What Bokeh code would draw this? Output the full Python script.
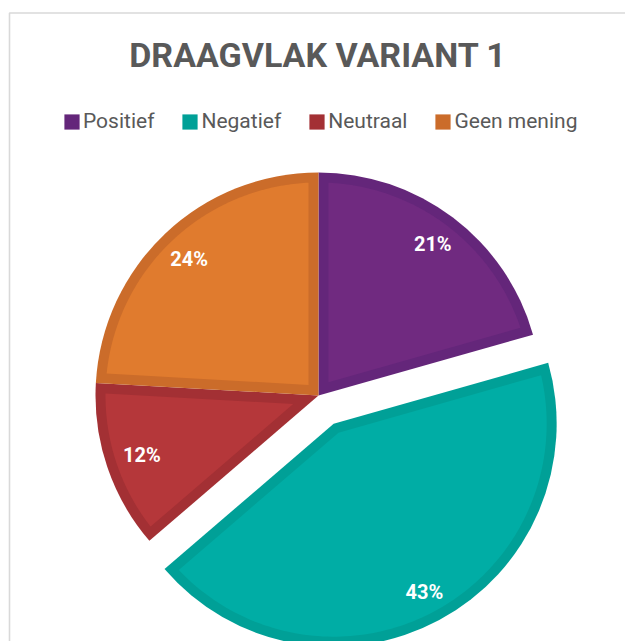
import math
from bokeh.plotting import figure
from bokeh.models import ColumnDataSource, Range1d, Legend, LegendItem
from bokeh.core.properties import value
from bokeh.embed import file_html
from bokeh.resources import INLINE

# ---------------- data ----------------
title_text = "DRAAGVLAK VARIANT 1"
categories = ["Positief", "Negatief", "Neutraal", "Geen mening"]
percentages = [20.6, 43.1, 12.2, 24.1]   # shares
fill_colors = ["#702A80", "#00ADA5", "#B5373A", "#E07B2E"]
edge_colors = ["#64267A", "#00A097", "#A33034", "#CB6C2A"]

# ---------------- layout constants ----------------
W, H = 625, 641
CX, CY, R = 318, 246, 223
BAND = 10
EXPLODE = {"Negatief": 32}

total = float(sum(percentages))
a0s, a1s, cxs, cys, lxs, lys, labels = [], [], [], [], [], [], []
inner_xs, inner_ys = [], []
cum = 0.0
for cat, v in zip(categories, percentages):
    a0 = math.pi / 2 - 2 * math.pi * cum / total
    cum += v
    a1 = math.pi / 2 - 2 * math.pi * cum / total
    mid = (a0 + a1) / 2
    theta = a0 - a1
    d = EXPLODE.get(cat, 0)
    cx = CX + d * math.cos(mid)
    cy = CY + d * math.sin(mid)
    a0s.append(a0); a1s.append(a1); cxs.append(cx); cys.append(cy)
    # label position (inside end)
    dist = R - 15 - (20 * abs(math.cos(mid)) + 8 * abs(math.sin(mid)))
    lxs.append(cx + dist * math.cos(mid))
    lys.append(cy + dist * math.sin(mid))
    labels.append(f"{int(math.floor(100 * v / total + 0.5))}%")
    # inner (fill) region: slice inset by BAND on every side
    apex = BAND / math.sin(theta / 2)
    px = [cx + apex * math.cos(mid)]
    py = [cy + apex * math.sin(mid)]
    delta = math.asin(BAND / (R - BAND))
    s0, s1 = a0 - delta, a1 + delta
    n = 120
    for k in range(n + 1):
        psi = s0 + (s1 - s0) * k / n
        px.append(cx + (R - BAND) * math.cos(psi))
        py.append(cy + (R - BAND) * math.sin(psi))
    inner_xs.append(px)
    inner_ys.append(py)

src = ColumnDataSource(dict(cat=categories, x=cxs, y=cys, a0=a0s, a1=a1s,
                            fill=fill_colors, edge=edge_colors))
inner_src = ColumnDataSource(dict(xs=inner_xs, ys=inner_ys, fill=fill_colors))
lab_src = ColumnDataSource(dict(x=lxs, y=lys, t=labels))

p = figure(width=W, height=H, x_range=Range1d(0, W), y_range=Range1d(0, H),
           x_axis_type=None, y_axis_type=None, toolbar_location=None,
           output_backend="svg", min_border=0, outline_line_color=None,
           background_fill_color="white", border_fill_color="white")
p.grid.visible = False

# chart frame (left and top edges visible)
p.line(x=[9, 9, W], y=[0, H - 12.5, H - 12.5], line_color="#D9D9D9", line_width=1.6)

# outer wedges in edge colour
r_outer = p.wedge(x="x", y="y", radius=R, start_angle="a0", end_angle="a1",
                  direction="clock", fill_color="edge", line_color=None, source=src)
# inner fill
p.patches(xs="xs", ys="ys", fill_color="fill", line_color=None, source=inner_src)

# percentage labels
p.text(x="x", y="y", text="t", source=lab_src, text_color="white",
       text_font=value("Roboto"), text_font_style="bold", text_font_size="20px",
       text_align="center", text_baseline="middle")

# title
p.text(x=[317.5], y=[H - 54], text=[title_text], text_color="#595959",
       text_font=value("Roboto"), text_font_style="bold", text_font_size="34px",
       text_align="center", text_baseline="middle")

legend = Legend(items=[LegendItem(label=c, renderers=[r_outer], index=i)
                       for i, c in enumerate(categories)],
                orientation="horizontal", location=(62, H - 133),
                glyph_width=19, glyph_height=19, label_standoff=2, spacing=26,
                label_text_font="Roboto", label_text_font_size="21px",
                label_text_color="#595959", border_line_color=None,
                background_fill_alpha=0, padding=0, margin=0)
p.add_layout(legend, "center")

open("out.html", "w").write(file_html(p, INLINE))
